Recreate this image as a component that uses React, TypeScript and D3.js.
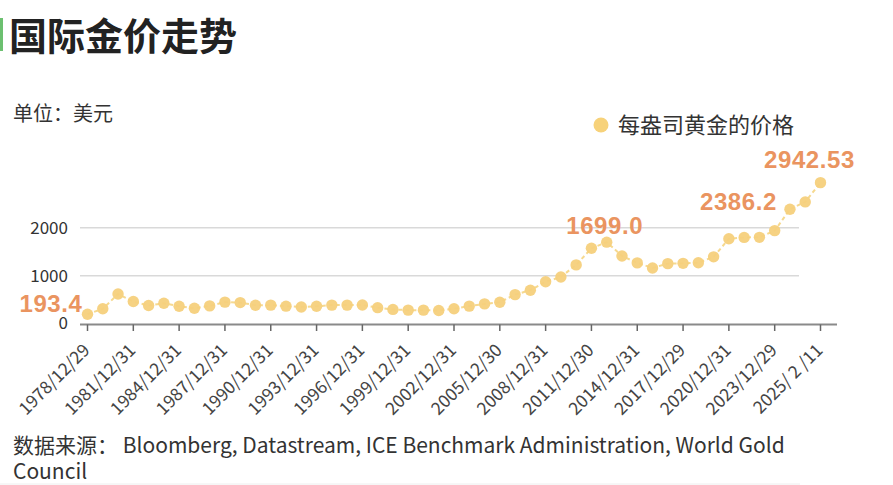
import React from "react";
import * as d3 from "d3";

const categories: string[] = [
  "1978/12/29", "1979/12/31", "1980/12/31", "1981/12/31", "1982/12/31", "1983/12/30",
  "1984/12/31", "1985/12/31", "1986/12/31", "1987/12/31", "1988/12/30", "1989/12/29",
  "1990/12/31", "1991/12/31", "1992/12/31", "1993/12/31", "1994/12/30", "1995/12/29",
  "1996/12/31", "1997/12/31", "1998/12/31", "1999/12/31", "2000/12/29", "2001/12/31",
  "2002/12/31", "2003/12/31", "2004/12/31", "2005/12/30", "2006/12/29", "2007/12/31",
  "2008/12/31", "2009/12/31", "2010/12/31", "2011/12/30", "2012/12/31", "2013/12/31",
  "2014/12/31", "2015/12/31", "2016/12/30", "2017/12/29", "2018/12/31", "2019/12/31",
  "2020/12/31", "2021/12/31", "2022/12/30", "2023/12/29", "2024/12/31", "2025/1/31",
  "2025/ 2 /11",
];

const goldPrice: number[] = [
  193.4, 306.7, 615.0, 459.2, 375.8, 424.0, 360.7, 317.3, 367.7, 446.5, 437.0, 381.4,
  383.5, 362.1, 343.8, 359.8, 384.0, 384.2, 387.8, 331.0, 294.2, 278.9, 279.1, 271.0,
  309.7, 363.4, 409.7, 444.7, 603.8, 695.4, 872.0, 972.4, 1224.5, 1571.5, 1699.0, 1411.2,
  1266.4, 1160.1, 1250.8, 1257.1, 1268.5, 1392.6, 1769.6, 1798.6, 1800.1, 1940.5, 2386.2, 2540.0,
  2942.53,
];

const tickIndices: number[] = [0, 3, 6, 9, 12, 15, 18, 21, 24, 27, 30, 33, 36, 39, 42, 45, 48];
const yTicks: number[] = [0, 1000, 2000];
const labelIndices: number[] = [0, 34, 46, 48];
const labelTexts: string[] = ["193.4", "1699.0", "2386.2", "2942.53"];

const title = "国际金价走势";
const unitText = "单位：美元";
const legendText = "每盎司黄金的价格";
const sourceLine1 = "数据来源：  Bloomberg, Datastream, ICE Benchmark Administration, World Gold";
const sourceLine2 = "Council";

const W = 893;
const H = 485;
const CJK = "'Noto Sans CJK SC', 'Noto Sans', sans-serif";

export default function App() {
  const x = d3.scaleLinear().domain([0, categories.length - 1]).range([87.5, 820.5]);
  const y = d3.scaleLinear().domain([0, 3000]).range([323.5, 179.9]);
  const line = d3
    .line<number>()
    .x((_, i) => x(i))
    .y((d) => y(d));

  // label offsets relative to the point (placement only)
  const labelPlacement = [
    { anchor: "end", dx: -5, dy: -2 },
    { anchor: "middle", dx: -2, dy: -8 },
    { anchor: "end", dx: -13, dy: 1 },
    { anchor: "middle", dx: -11, dy: -15 },
  ];

  return (
    <svg
      width={W}
      height={H}
      style={{ position: "absolute", left: 0, top: 0, background: "#fff" }}
    >
      <rect x={0} y={0} width={W} height={H} fill="#fff" />
      <rect x={0} y={18} width={3} height={33} fill="#6cc070" />
      <text x={9} y={50} fontFamily={CJK} fontWeight={700} fontSize={38} fill="#222">
        {title}
      </text>
      <text x={13} y={121} fontFamily={CJK} fontSize={20} fill="#333">
        {unitText}
      </text>

      {/* legend */}
      <circle cx={601} cy={125} r={7.5} fill="#F7D27A" />
      <text x={618} y={133} fontFamily={CJK} fontSize={22} fill="#333">
        {legendText}
      </text>

      {/* grid */}
      {yTicks.filter((t) => t > 0).map((t) => (
        <line key={t} x1={80} x2={799} y1={y(t)} y2={y(t)} stroke="#d9d9d9" strokeWidth={1.5} />
      ))}
      {yTicks.map((t) => (
        <text
          key={"yl" + t}
          x={68}
          y={y(t)}
          dy="0.35em"
          textAnchor="end"
          fontFamily={CJK}
          fontSize={17}
          fill="#333"
        >
          {t}
        </text>
      ))}

      {/* x axis */}
      <line x1={80} x2={837} y1={324.5} y2={324.5} stroke="#8a8a8a" strokeWidth={2} />
      {tickIndices.map((i) => (
        <g key={"xt" + i}>
          <line x1={x(i)} x2={x(i)} y1={324.5} y2={331} stroke="#666" strokeWidth={1.5} />
          <text
            transform={`translate(${x(i) - 1},${347}) rotate(-45)`}
            textAnchor="end"
            dy="0.35em"
            fontFamily={CJK}
            fontSize={17.5}
            fill="#444"
          >
            {categories[i]}
          </text>
        </g>
      ))}

      {/* series */}
      <path
        d={line(goldPrice) || ""}
        fill="none"
        stroke="#F6D98F"
        strokeWidth={2}
        strokeDasharray="4,3"
      />
      {goldPrice.map((v, i) => (
        <circle key={"p" + i} cx={x(i)} cy={y(v)} r={5.7} fill="#F5D07C" fillOpacity={0.95} />
      ))}

      {/* value labels */}
      {labelIndices.map((idx, k) => (
        <text
          key={"lab" + idx}
          x={x(idx) + labelPlacement[k].dx}
          y={y(goldPrice[idx]) + labelPlacement[k].dy}
          textAnchor={labelPlacement[k].anchor as any}
          fontFamily="'Liberation Sans', Arial, sans-serif"
          fontWeight={700}
          fontSize={24}
          letterSpacing={0.6}
          fill="#EA9460"
        >
          {labelTexts[k]}
        </text>
      ))}

      {/* source */}
      <text x={13} y={453} fontFamily={CJK} fontSize={21} fill="#333">
        {sourceLine1}
      </text>
      <text x={13} y={479} fontFamily={CJK} fontSize={21} fill="#333">
        {sourceLine2}
      </text>
      <line x1={0} x2={800} y1={484} y2={484} stroke="#eee" strokeWidth={1} />
    </svg>
  );
}
